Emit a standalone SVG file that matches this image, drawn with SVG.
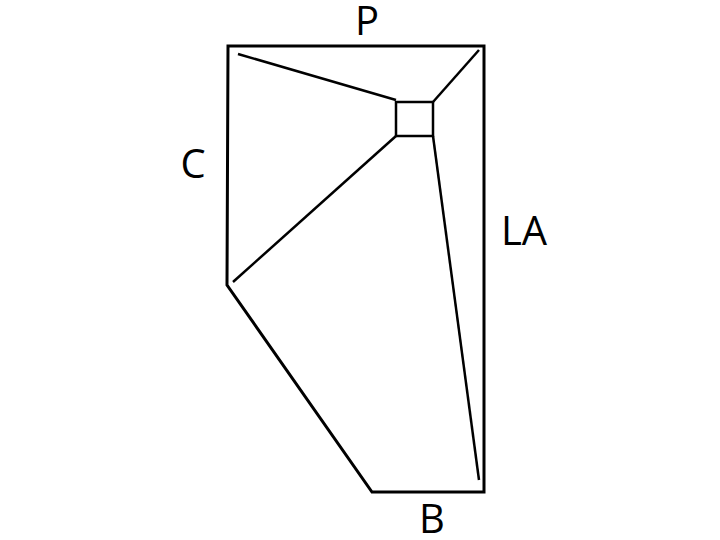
<svg xmlns="http://www.w3.org/2000/svg" width="720" height="540" viewBox="0 0 720 540">
<style>
.outer{fill:none;stroke:#000;stroke-width:3;stroke-linejoin:miter}
.inner{fill:none;stroke:#000;stroke-width:2.5}
.lbl{font-family:"Open Sans","Liberation Sans",sans-serif;font-size:40px;fill:#000;text-anchor:middle}
</style>
<rect width="720" height="540" fill="#fff"/>
<g id="shape">
<polygon class="outer" points="228,46 484,46 484,492 372,492 227,285"/>
</g>
<g id="box">
<rect class="inner" x="396" y="102" width="37" height="34"/>
</g>
<g id="connectors">
<line class="inner" x1="238" y1="54" x2="396" y2="100"/>
<line class="inner" x1="433" y1="102" x2="479" y2="50"/>
<line class="inner" x1="396" y1="136" x2="233" y2="282"/>
<line class="inner" x1="433" y1="136" x2="479" y2="480"/>
</g>
<g id="labels">
<text class="lbl" x="367" y="35">P</text>
<text class="lbl" x="193" y="178">C</text>
<text class="lbl" x="524" y="245">LA</text>
<text class="lbl" x="432" y="533">B</text>
</g>
</svg>
